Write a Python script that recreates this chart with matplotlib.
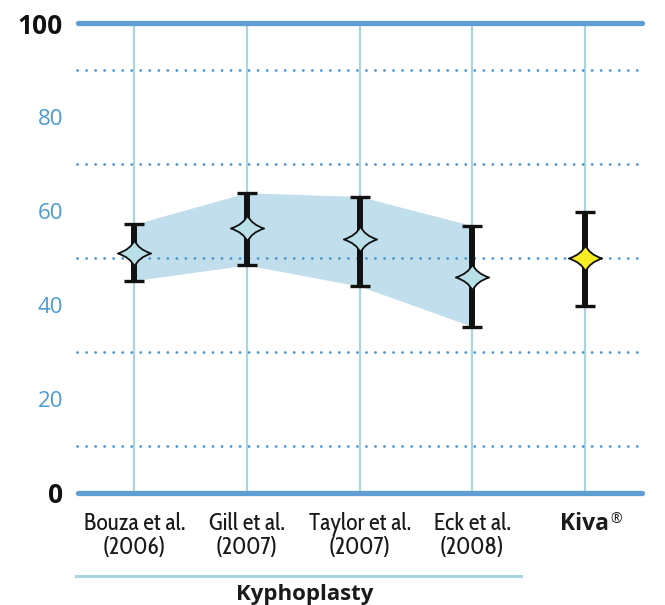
import matplotlib
matplotlib.use("Agg")
import matplotlib.pyplot as plt
import numpy as np
from matplotlib.path import Path
from matplotlib.transforms import blended_transform_factory

# ---- data ----
studies = ["Bouza et al.\n(2006)", "Gill et al.\n(2007)", "Taylor et al.\n(2007)",
           "Eck et al.\n(2008)", "Kiva"]
center = [51.1, 56.3, 54.0, 46.0, 49.9]
upper = [57.2, 63.9, 63.1, 56.9, 59.9]
lower = [45.2, 48.5, 44.0, 35.4, 39.8]
band_n = 4  # first four are kyphoplasty studies
major_ticks = [0, 20, 40, 60, 80, 100]
minor_lines = [10, 30, 50, 70, 90]
group_label = "Kyphoplasty"

COND = ["Cabin Condensed", "Asap Condensed", "DejaVu Sans"]
HUM = ["Open Sans", "DejaVu Sans"]

# ---- style ----
W, H = 665, 605
fig = plt.figure(figsize=(W / 100, H / 100), dpi=100)
x0px, step = 134.2, 112.7
xl = (-0.54, 4.56)
left_px = x0px + xl[0] * step
right_px = x0px + xl[1] * step
ppu = (492.7 - 23.3) / 100.0
yl = (-2, 102)
top_px = 23.3 - 2 * ppu
bot_px = 492.7 + 2 * ppu
ax = fig.add_axes([left_px / W, (H - bot_px) / H, (right_px - left_px) / W, (bot_px - top_px) / H])
ax.set_xlim(*xl)
ax.set_ylim(*yl)
for s in ax.spines.values():
    s.set_visible(False)

x = np.arange(len(studies))

# band
ax.fill_between(x[:band_n], lower[:band_n], upper[:band_n], color="#c0deec", lw=0, zorder=1)

# vertical lines
ax.vlines(x, 0, 100, color="#a9d5df", lw=1.6, zorder=2)
# dotted lines
dots = ax.hlines(minor_lines, -0.51, 4.53, color="#4b95d3", lw=2.0,
                 linestyles=[(0, (0.05, 3.2))], zorder=2)
dots.set_capstyle("round")
# solid lines at 0 and 100
for yv in (0, 100):
    ax.plot([-0.50, 4.51], [yv, yv], color="#5f9ed3", lw=3.8,
            solid_capstyle="round", zorder=3)

# error bars
ax.errorbar(x, center, yerr=[np.array(center) - np.array(lower), np.array(upper) - np.array(center)],
            fmt="none", ecolor="#111111", elinewidth=4.3, capsize=7.5, capthick=2.4, zorder=4)

# star marker
k = 0.3
verts = [(1.27, 0), (k, k), (0, 1), (-k, k), (-1.27, 0), (-k, -k), (0, -1), (k, -k), (1.27, 0), (1.27, 0)]
codes = [Path.MOVETO, Path.CURVE3, Path.CURVE3, Path.CURVE3, Path.CURVE3,
         Path.CURVE3, Path.CURVE3, Path.CURVE3, Path.CURVE3, Path.CLOSEPOLY]
star = Path(verts, codes)
ax.plot(x[:band_n], center[:band_n], ls="none", marker=star, ms=24,
        mfc="#b9e0e8", mec="#111111", mew=1.3, zorder=5)
ax.plot(x[band_n:], center[band_n:], ls="none", marker=star, ms=24,
        mfc="#f8ec25", mec="#111111", mew=1.3, zorder=5)

# y tick labels
ax.set_yticks(major_ticks)
ax.set_yticklabels([str(t) for t in major_ticks])
ax.tick_params(axis="y", length=0, pad=7.5)
for t, lab in zip(major_ticks, ax.get_yticklabels()):
    lab.set_fontfamily(HUM)
    if t in (0, 100):
        lab.set_fontweight("bold")
        lab.set_fontsize(19)
        lab.set_color("#111111")
    else:
        lab.set_fontsize(16)
        lab.set_color("#4b9bd1")

# x tick labels
ax.set_xticks(x)
ax.set_xticklabels(studies, linespacing=1.0)
ax.tick_params(axis="x", length=0, pad=7)
for i, lab in enumerate(ax.get_xticklabels()):
    lab.set_fontfamily(COND)
    lab.set_fontsize(17)
    lab.set_color("#1a1a1a")
    if i == len(studies) - 1:
        lab.set_fontfamily(HUM)
        lab.set_fontweight("bold")
        lab.set_fontsize(16.5)

ax.annotate("®", xy=(x[-1], 0), xycoords=("data", "axes fraction"),
            xytext=(31, -17), textcoords="offset pixels", ha="center", va="center",
            fontsize=10, color="#1a1a1a", family=HUM)

# group rule and label
tr = blended_transform_factory(ax.transData, ax.transAxes)
ax.plot([(76 - x0px) / step, (521 - x0px) / step], [-(576 - bot_px) / (bot_px - top_px)] * 2,
        transform=tr, clip_on=False, color="#a9d5df", lw=2.2)
fig.text(304.5 / W, (H - 600) / H, group_label, ha="center", va="baseline",
         fontsize=16, fontweight="bold", color="#1a1a1a", family=HUM)

fig.savefig("out.png", dpi=100)
